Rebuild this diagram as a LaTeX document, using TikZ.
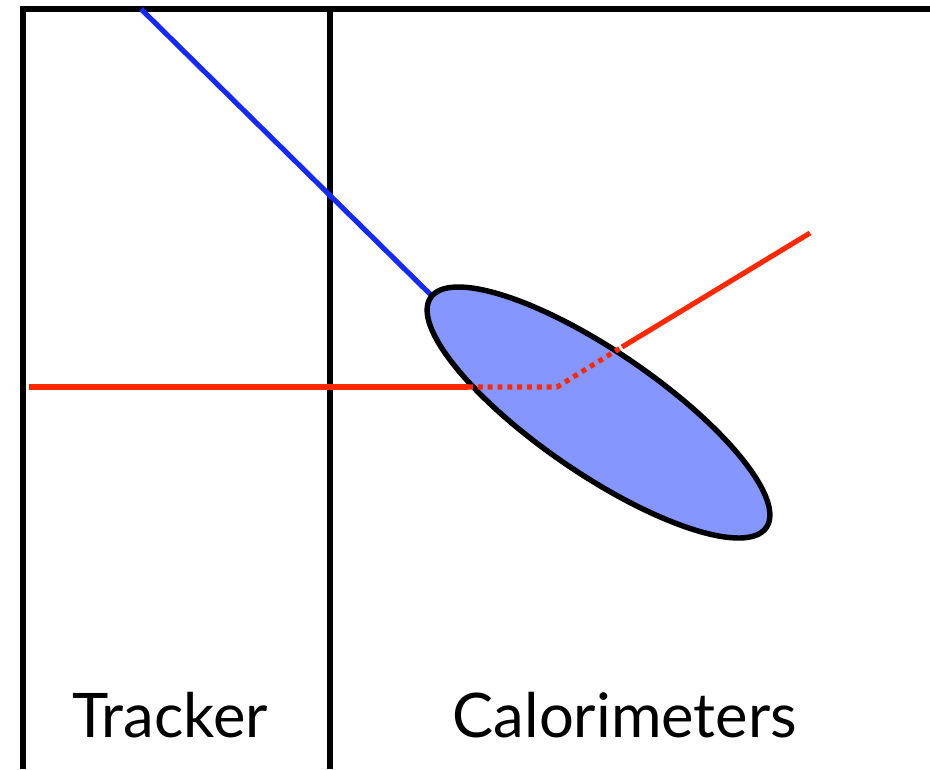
\documentclass[tikz,border=0pt]{standalone}
\usepackage{fontspec}
\setmainfont{Lato}
\usetikzlibrary{shapes.geometric}
\definecolor{jetblue}{RGB}{20,40,255}
\definecolor{clusterfill}{RGB}{133,150,255}
\definecolor{trackred}{RGB}{255,40,0}

\begin{document}
\begin{tikzpicture}[x=0.02cm, y=-0.02cm,
    wall/.style={black, line width=3.1pt},
    label/.style={font=\fontsize{35}{38}\selectfont, anchor=base, inner sep=0pt},
    jet/.style={jetblue, line width=2.9pt},
    track/.style={trackred, line width=2.9pt},
    hidden/.style={track, dash pattern=on 2.8pt off 2.8pt}]
  \useasboundingbox (0,0) rectangle (930,769);

  % detector walls
  \draw[wall] (23,769) -- (23,9) -- (930,9);
  \draw[wall] (330,9) -- (330,769);

  \node[label] (tracker) at (170,737) {Tracker};
  \node[label] (calo) at (625,737) {Calorimeters};

  % jet and its energy deposit
  \coordinate (jetin) at (141,9);
  \coordinate (jethit) at (433,297);
  \draw[jet] (jetin) -- (jethit);

  \node[ellipse, draw=black, fill=clusterfill, line width=3.1pt,
        inner sep=0pt, outer sep=0pt, minimum width=8.14cm, minimum height=2.44cm,
        rotate=-34.4] (cluster) at (598.5,412.5) {};

  % charged track through the calorimeter
  \coordinate (trkin) at (29,387);
  \coordinate (trkenter) at (468,387);
  \coordinate (trkbend) at (557,387);
  \coordinate (trkexit) at (622,347);
  \coordinate (trkout) at (810,233);
  \draw[track] (trkin) -- (trkenter);
  \draw[hidden] (trkenter) -- (trkbend) -- (trkexit);
  \draw[track] (trkexit) -- (trkout);
\end{tikzpicture}
\end{document}
